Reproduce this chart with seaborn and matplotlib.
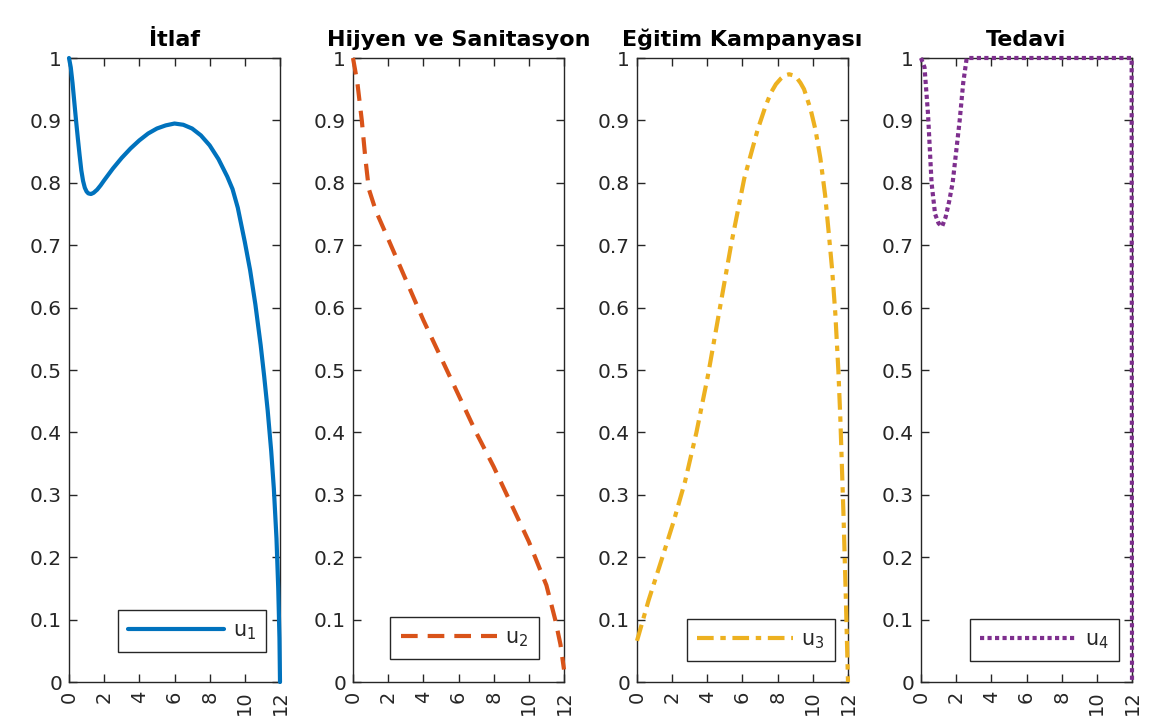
import numpy as np
import pandas as pd
import matplotlib
matplotlib.use("Agg")
import matplotlib.pyplot as plt
import seaborn as sns

# ---------------- data ----------------
titles = ["İtlaf", "Hijyen ve Sanitasyon", "Eğitim Kampanyası", "Tedavi"]
labels = ["u$_1$", "u$_2$", "u$_3$", "u$_4$"]

u1_t = [0, 0.1, 0.2, 0.3, 0.4, 0.5, 0.6, 0.7, 0.8, 0.9, 1.0, 1.1, 1.25, 1.4, 1.6, 1.8, 2, 2.5, 3, 3.5,
        4, 4.5, 5, 5.5, 6, 6.5, 7, 7.5, 8, 8.5, 9, 9.3, 9.6, 10, 10.3, 10.6, 10.9, 11.1, 11.3,
        11.5, 11.65, 11.8, 11.9, 11.97, 12]
u1_v = [1.0, 0.985, 0.96, 0.93, 0.9, 0.872, 0.845, 0.82, 0.803, 0.792, 0.786, 0.783, 0.782, 0.784,
        0.789, 0.796, 0.804, 0.823, 0.84, 0.855, 0.868, 0.879, 0.887, 0.892, 0.895, 0.893, 0.887,
        0.876, 0.86, 0.838, 0.81, 0.79, 0.76, 0.705, 0.66, 0.605, 0.54, 0.49, 0.435, 0.37, 0.31,
        0.23, 0.15, 0.07, 0.0]

u2_t = [0, 0.25, 0.5, 0.7, 0.9, 1.3, 2, 3, 4, 5, 6, 7, 8, 9, 10, 11, 11.5, 11.8, 12]
u2_v = [1.0, 0.96, 0.9, 0.84, 0.79, 0.755, 0.71, 0.645, 0.58, 0.52, 0.46, 0.40, 0.345, 0.285,
        0.225, 0.155, 0.10, 0.06, 0.02]

u3_t = [0, 0.66, 1.41, 2.07, 2.73, 3.38, 4.04, 4.7, 5.36, 6.1, 6.86, 7.3, 7.61, 7.9, 8.18, 8.4,
        8.65, 8.9, 9.12, 9.3, 9.5, 9.87, 10.15, 10.43, 10.7, 10.9, 11.1, 11.28, 11.45, 11.56,
        11.75, 11.88, 12]
u3_v = [0.066, 0.131, 0.197, 0.256, 0.321, 0.40, 0.492, 0.597, 0.702, 0.807, 0.885, 0.922, 0.944,
        0.958, 0.967, 0.972, 0.974, 0.972, 0.967, 0.96, 0.95, 0.918, 0.885, 0.839, 0.78, 0.721,
        0.66, 0.59, 0.5, 0.426, 0.262, 0.131, 0.0]

u4_t = [0, 0.2, 0.4, 0.6, 0.8, 1.0, 1.2, 1.4, 1.6, 1.8, 2.0, 2.2, 2.4, 2.6, 3, 6, 9, 11.98, 12.0]
u4_v = [1.0, 0.985, 0.91, 0.8, 0.75, 0.735, 0.73, 0.745, 0.77, 0.8, 0.85, 0.9, 0.96, 1.0, 1.0,
        1.0, 1.0, 1.0, 0.0]

x_ticks = [0, 2, 4, 6, 8, 10, 12]
y_ticks = [0, 0.1, 0.2, 0.3, 0.4, 0.5, 0.6, 0.7, 0.8, 0.9, 1.0]
y_ticklabels = ["0", "0.1", "0.2", "0.3", "0.4", "0.5", "0.6", "0.7", "0.8", "0.9", "1"]

series = [(u1_t, u1_v), (u2_t, u2_v), (u3_t, u3_v), (u4_t, u4_v)]

# ---------------- style ----------------
sns.set_theme(style="ticks")
plt.rcParams["font.family"] = ["DejaVu Sans"]
plt.rcParams["mathtext.fontset"] = "dejavusans"

colors = ["#0072BD", "#D95319", "#EDB120", "#7E2F8E"]
dashes = [None, (4, 2.4), (4, 1.6, 1.3, 1.6), (1.0, 0.8)]
axcol = "#262626"

W, H = 1167, 719
fig = plt.figure(figsize=(W / 100, H / 100), dpi=100)
lefts = [69, 353, 637, 921]
axw = 211
top_px, bot_px = 58, 682
leg_boxes = [(0.245, 0.046, 0.678, 0.071), (0.204, 0.035, 0.648, 0.071),
             (0.258, 0.032, 0.657, 0.071), (0.255, 0.032, 0.66, 0.071)]

for i, (t, v) in enumerate(series):
    ax = fig.add_axes([lefts[i] / W, (H - bot_px) / H, axw / W, (bot_px - top_px) / H])
    df = pd.DataFrame({"t": t, "u": v})
    sns.lineplot(data=df, x="t", y="u", ax=ax, color=colors[i], linewidth=3,
                 estimator=None, sort=False, label=labels[i])
    line = ax.get_lines()[0]
    if dashes[i] is not None:
        line.set_dashes(dashes[i])
    line.set_dash_capstyle("butt")
    line.set_clip_on(False)
    line.set_zorder(5)
    ax.set_xlim(0, 12)
    ax.set_ylim(0, 1)
    ax.set_xticks(x_ticks)
    ax.set_xticklabels([str(x) for x in x_ticks], rotation=90)
    ax.set_yticks(y_ticks)
    ax.set_yticklabels(y_ticklabels)
    ax.set_xlabel("")
    ax.set_ylabel("")
    ax.tick_params(axis="both", direction="in", length=6, width=1, colors=axcol,
                   top=True, right=True)
    ax.tick_params(axis="y", labelsize=14.5, pad=5)
    ax.tick_params(axis="x", labelsize=14, pad=6)
    for s in ax.spines.values():
        s.set_visible(True)
        s.set_color(axcol)
        s.set_linewidth(1)
    ax.set_title(titles[i], fontsize=16, fontweight="bold", color="black", pad=9)
    x0, y0, w, h = leg_boxes[i]
    leg = ax.legend(loc="center", bbox_to_anchor=(x0 + w / 2, y0 + h / 2),
                    fontsize=15, handlelength=4.6, handletextpad=0.4, borderpad=0.5,
                    fancybox=False, framealpha=1, edgecolor=axcol)
    leg.get_frame().set_linewidth(1)
    leg.set_zorder(10)

fig.savefig("out.png", dpi=100, facecolor="white")
